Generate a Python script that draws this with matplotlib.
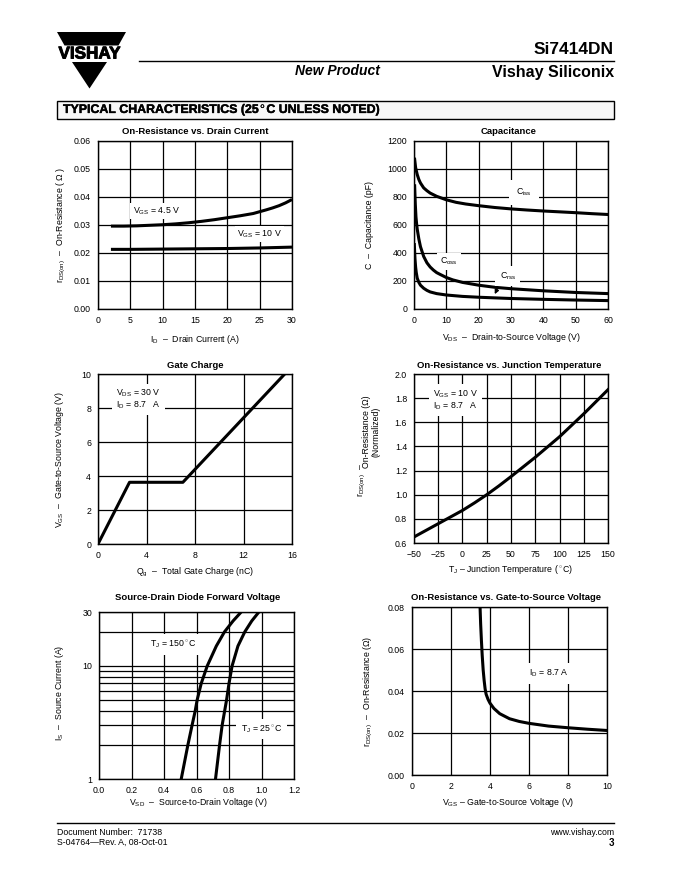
import numpy as np
import matplotlib
matplotlib.use("Agg")
import matplotlib.pyplot as plt
import matplotlib.patheffects as pe
from matplotlib.patches import Polygon, Rectangle
from matplotlib.lines import Line2D
from matplotlib.ticker import FixedLocator, NullFormatter

plt.rcParams['font.family'] = ['Liberation Sans', 'DejaVu Sans']
plt.rcParams['mathtext.fontset'] = 'custom'
plt.rcParams['mathtext.rm'] = 'Liberation Sans'
plt.rcParams['mathtext.it'] = 'Liberation Sans:italic'
plt.rcParams['mathtext.bf'] = 'Liberation Sans:bold'

# ---------------- data ----------------
# On-resistance vs drain current
id_a = [2, 4, 6, 8, 10, 12, 14, 16, 18, 20, 22, 24, 26, 27, 28, 29, 30]
rds_45 = [0.0296, 0.0296, 0.0297, 0.0299, 0.0301, 0.0304, 0.0308, 0.0313, 0.0319, 0.0326,
          0.0333, 0.0341, 0.0354, 0.0361, 0.0369, 0.0379, 0.0391]
id_b = [2, 5, 10, 15, 20, 25, 30]
rds_10 = [0.0213, 0.0213, 0.0214, 0.0215, 0.0216, 0.0218, 0.0221]

# Capacitance
vds_ciss = [0.2, 0.5, 1, 1.5, 2, 3, 4, 5, 7, 10, 13, 16, 20, 25, 30, 35, 40, 45, 50, 55, 60]
ciss = [1070, 1010, 960, 925, 900, 865, 845, 828, 805, 780, 762, 750, 738, 725, 715, 707, 700, 694, 688, 681, 675]
vds_coss = [0.2, 0.4, 0.6, 0.8, 1, 1.5, 2, 3, 4, 5, 6, 7, 8, 10, 12, 15, 20, 25, 30, 40, 50, 60]
coss = [880, 750, 660, 610, 570, 500, 445, 375, 330, 300, 278, 260, 248, 225, 208, 190, 170, 155, 145, 130, 118, 110]
vds_crss = [0.1, 0.3, 0.5, 0.7, 1, 1.5, 2, 3, 4, 5, 7, 10, 15, 20, 30, 40, 50, 60]
crss = [460, 360, 300, 260, 220, 190, 170, 148, 133, 122, 110, 100, 90, 84, 75, 69, 64, 60]

# Gate charge
qg = [0, 2.6, 7.0, 15.4]
vgs_qg = [0, 3.63, 3.63, 10]

# On-resistance vs junction temperature
tj = [-50, -37.5, -25, -12.5, 0, 12.5, 25, 37.5, 50, 62.5, 75, 87.5, 100, 112.5, 125, 137.5, 150]
rds_norm = [0.65, 0.705, 0.76, 0.815, 0.87, 0.933, 1.00, 1.073, 1.15, 1.23, 1.31, 1.395, 1.48,
            1.575, 1.67, 1.77, 1.87]

# Source-drain diode
is_150 = [1, 2, 3, 4, 5, 7, 10, 15, 20, 25, 30]
vsd_150 = [0.506, 0.547, 0.573, 0.592, 0.604, 0.629, 0.666, 0.722, 0.772, 0.825, 0.875]
is_25 = [1, 2, 3, 5, 7, 10, 15, 20, 25, 30]
vsd_25 = [0.717, 0.742, 0.758, 0.785, 0.800, 0.819, 0.855, 0.897, 0.940, 0.984]

# On-resistance vs gate-to-source voltage
vgs_r = [3.49, 3.52, 3.56, 3.60, 3.65, 3.70, 3.75, 3.80, 3.90, 4.0, 4.2, 4.5, 5.0, 5.5, 6, 7, 8, 9, 10]
rds_vgs = [0.080, 0.072, 0.064, 0.057, 0.050, 0.045, 0.041, 0.0385, 0.036, 0.0342, 0.0317, 0.0292,
           0.0268, 0.0255, 0.0246, 0.0233, 0.0225, 0.0218, 0.0212]

W, H = 680, 880
fig = plt.figure(figsize=(6.8, 8.8), dpi=100)


def fx(x):
    return x / W


def fy(y):
    return 1 - y / H


def add_ax(l, t, r, b):
    ax = fig.add_axes([fx(l), fy(b), (r - l) / W, (b - t) / H])
    for s in ax.spines.values():
        s.set_linewidth(1.0)
        s.set_color('black')
    ax.tick_params(length=0, pad=5, labelsize=6.3)
    ax.grid(True, color='black', linewidth=0.9)
    ax.set_axisbelow(True)
    return ax


def ftext(x, y, s, **kw):
    fig.text(fx(x), fy(y), s, **kw)


LW = 2.2
box = dict(facecolor='white', edgecolor='none', pad=1.5)

# ---------------- header ----------------
fig.patches.append(Polygon([[fx(57), fy(32)], [fx(126), fy(32)], [fx(118.5), fy(45.5)], [fx(64.5), fy(45.5)]],
                           closed=True, transform=fig.transFigure, facecolor='black', edgecolor='none'))
fig.patches.append(Polygon([[fx(72), fy(62)], [fx(107), fy(62)], [fx(89.5), fy(88.5)]],
                           closed=True, transform=fig.transFigure, facecolor='black', edgecolor='none'))
ftext(89.5, 54, 'VISHAY', ha='center', va='center', fontsize=12.3, fontweight='bold', color='black',
      path_effects=[pe.withStroke(linewidth=0.7, foreground='black')])

fig.add_artist(Line2D([fx(139), fx(614)], [fy(61), fy(61)], color='black', lw=1.0))
ftext(614, 50, 'Si7414DN', ha='right', va='center', fontsize=12.5, fontweight='bold')
ftext(614, 72, 'Vishay Siliconix', ha='right', va='center', fontsize=11.5, fontweight='bold')
ftext(337, 71, 'New Product', ha='center', va='center', fontsize=10, fontweight='bold', style='italic')

fig.patches.append(Rectangle((fx(57), fy(119)), (614 - 57) / W, 18 / H, transform=fig.transFigure,
                             facecolor='#f7f7f7', edgecolor='black', lw=1.0))
ftext(63, 110, 'TYPICAL CHARACTERISTICS (25$^\\circ$C UNLESS NOTED)', ha='left', va='center',
      fontsize=8.9, fontweight='heavy', path_effects=[pe.withStroke(linewidth=0.3, foreground='black')])

# footer
fig.add_artist(Line2D([fx(57), fx(614)], [fy(823), fy(823)], color='black', lw=1.0))
ftext(57, 832, 'Document Number:  71738', ha='left', va='center', fontsize=6.3)
ftext(57, 842, 'S-04764\u2014Rev. A, 08-Oct-01', ha='left', va='center', fontsize=6.3)
ftext(614, 832, 'www.vishay.com', ha='right', va='center', fontsize=6.3)
ftext(614, 843, '3', ha='right', va='center', fontsize=7, fontweight='bold')

TS = 6.8   # title size
LS = 6.3   # label size

# ---------------- panel 1 ----------------
ax1 = add_ax(98, 141, 292, 309)
ax1.plot(id_a, rds_45, color='black', lw=LW, solid_capstyle='butt')
ax1.plot(id_b, rds_10, color='black', lw=LW, solid_capstyle='butt')
ax1.set_xlim(0, 30)
ax1.set_ylim(0, 0.06)
ax1.set_xticks(np.arange(0, 31, 5))
ax1.set_yticks(np.arange(0, 0.061, 0.01))
ax1.set_yticklabels(['0.00', '0.01', '0.02', '0.03', '0.04', '0.05', '0.06'])
ax1.text(9.0, 0.0350, '$\\mathregular{V_{GS}}$ = 4.5 V', ha='center', va='center', fontsize=LS, bbox=box)
ax1.text(25.0, 0.0267, '$\\mathregular{V_{GS}}$ = 10 V', ha='center', va='center', fontsize=LS, bbox=box)
ftext(195, 131, 'On-Resistance vs. Drain Current', ha='center', va='center', fontsize=TS, fontweight='bold')
ftext(195, 339, '$\\mathregular{I_D}$  \u2013  Drain Current (A)', ha='center', va='center', fontsize=LS)
ftext(61, 225, '$\\mathregular{r_{DS(on)}}$  \u2013  On-Resistance ( \u03a9 )', ha='center', va='center',
      fontsize=LS, rotation=90)

# ---------------- panel 2 ----------------
ax2 = add_ax(414, 141, 608, 309)
ax2.plot(vds_ciss, ciss, color='black', lw=LW)
ax2.plot(vds_coss, coss, color='black', lw=LW)
ax2.plot(vds_crss, crss, color='black', lw=LW)
ax2.set_xlim(0, 60)
ax2.set_ylim(0, 1200)
ax2.set_xticks(np.arange(0, 61, 10))
ax2.set_yticks(np.arange(0, 1201, 200))
ax2.text(34, 832, '$\\mathregular{C_{iss}}$', ha='center', va='center', fontsize=LS,
         bbox=dict(facecolor='white', edgecolor='none', pad=5))
ax2.text(10.8, 340, '$\\mathregular{C_{oss}}$', ha='center', va='center', fontsize=LS,
         bbox=dict(facecolor='white', edgecolor='none', pad=2))
ax2.text(29, 235, '$\\mathregular{C_{rss}}$', ha='center', va='center', fontsize=LS,
         bbox=dict(facecolor='white', edgecolor='none', pad=3))
ax2.annotate('', xy=(24.6, 88), xytext=(26.3, 170),
             arrowprops=dict(arrowstyle='-|>', color='black', lw=1.0, mutation_scale=6))
ftext(509, 131, 'Capacitance', ha='center', va='center', fontsize=TS, fontweight='bold')
ftext(511, 338, '$\\mathregular{V_{DS}}$  \u2013  Drain-to-Source Voltage (V)', ha='center', va='center', fontsize=LS)
ftext(369, 225, 'C  \u2013  Capacitance (pF)', ha='center', va='center', fontsize=LS, rotation=90)

# ---------------- panel 3 ----------------
ax3 = add_ax(98, 374, 292, 544)
ax3.plot(qg, vgs_qg, color='black', lw=LW)
ax3.set_xlim(0, 16)
ax3.set_ylim(0, 10)
ax3.set_xticks(np.arange(0, 17, 4))
ax3.set_yticks(np.arange(0, 11, 2))
ax3.text(1.5, 8.5, '$\\mathregular{V_{DS}}$ = 30 V\n$\\mathregular{I_D}$ = 8.7   A', ha='left', va='center',
         fontsize=LS, linespacing=0.95, bbox=dict(facecolor='white', edgecolor='none', pad=3))
ftext(195, 366, 'Gate Charge', ha='center', va='center', fontsize=TS, fontweight='bold')
ftext(195, 572, '$\\mathregular{Q_g}$  \u2013  Total Gate Charge (nC)', ha='center', va='center', fontsize=LS)
ftext(60, 459, '$\\mathregular{V_{GS}}$  \u2013  Gate-to-Source Voltage (V)', ha='center', va='center',
      fontsize=LS, rotation=90)

# ---------------- panel 4 ----------------
ax4 = add_ax(414, 374, 608, 543)
ax4.plot(tj, rds_norm, color='black', lw=LW)
ax4.set_xlim(-50, 150)
ax4.set_ylim(0.6, 2.0)
ax4.set_xticks(np.arange(-50, 151, 25))
ax4.set_xticklabels(['\u221250', '\u221225', '0', '25', '50', '75', '100', '125', '150'])
ax4.set_yticks(np.arange(0.6, 2.01, 0.2))
ax4.set_yticklabels(['0.6', '0.8', '1.0', '1.2', '1.4', '1.6', '1.8', '2.0'])
ax4.text(-30.5, 1.785, '$\\mathregular{V_{GS}}$ = 10 V\n$\\mathregular{I_D}$ = 8.7   A', ha='left', va='center',
         fontsize=LS, linespacing=0.95, bbox=dict(facecolor='white', edgecolor='none', pad=3))
ftext(509, 366, 'On-Resistance vs. Junction Temperature', ha='center', va='center', fontsize=TS, fontweight='bold')
ftext(511, 569, '$\\mathregular{T_J}$ \u2013 Junction Temperature ($^\\circ$C)', ha='center', va='center', fontsize=LS)
ftext(362, 480, '$\\mathregular{r_{DS(on)}}$  \u2013', ha='center', va='center', fontsize=LS, rotation=90)
ftext(371, 432, 'On-Resistance (\u03a9)\n(Normalized)', ha='center', va='center', fontsize=LS,
      rotation=90, linespacing=1.1)

# ---------------- panel 5 ----------------
ax5 = add_ax(99, 612, 294, 779)
ax5.set_yscale('log')
ax5.plot(vsd_150, is_150, color='black', lw=LW)
ax5.plot(vsd_25, is_25, color='black', lw=LW)
ax5.set_xlim(0, 1.2)
ax5.set_ylim(1, 30)
ax5.set_xticks(np.arange(0, 1.21, 0.2))
ax5.set_xticklabels(['0.0', '0.2', '0.4', '0.6', '0.8', '1.0', '1.2'])
ax5.yaxis.set_major_locator(FixedLocator([1, 10, 30]))
ax5.set_yticklabels(['1', '10', '30'])
ax5.yaxis.set_minor_locator(FixedLocator([2, 3, 4, 5, 6, 7, 8, 9, 20]))
ax5.yaxis.set_minor_formatter(NullFormatter())
ax5.tick_params(which='minor', length=0)
ax5.grid(True, which='minor', axis='y', color='black', linewidth=0.9)
ax5.grid(True, which='major', color='black', linewidth=0.9)
ax5.text(0.46, 15.5, '$\\mathregular{T_J}$ = 150$^\\circ$C', ha='center', va='center', fontsize=LS,
         bbox=dict(facecolor='white', edgecolor='none', pad=3))
ax5.text(1.0, 2.75, '$\\mathregular{T_J}$ = 25$^\\circ$C', ha='center', va='center', fontsize=LS,
         bbox=dict(facecolor='white', edgecolor='none', pad=3))
ftext(198, 597, 'Source-Drain Diode Forward Voltage', ha='center', va='center', fontsize=TS, fontweight='bold')
ftext(198, 802, '$\\mathregular{V_{SD}}$  \u2013  Source-to-Drain Voltage (V)', ha='center', va='center', fontsize=LS)
ftext(60, 693, '$\\mathregular{I_S}$  \u2013  Source Current (A)', ha='center', va='center', fontsize=LS, rotation=90)

# ---------------- panel 6 ----------------
ax6 = add_ax(412, 607, 607, 775)
ax6.plot(vgs_r, rds_vgs, color='black', lw=LW)
ax6.set_xlim(0, 10)
ax6.set_ylim(0, 0.08)
ax6.set_xticks(np.arange(0, 11, 2))
ax6.set_yticks(np.arange(0, 0.081, 0.02))
ax6.set_yticklabels(['0.00', '0.02', '0.04', '0.06', '0.08'])
ax6.text(7.0, 0.0485, '$\\mathregular{I_D}$ = 8.7 A', ha='center', va='center', fontsize=LS,
         bbox=dict(facecolor='white', edgecolor='none', pad=3))
ftext(506, 597, 'On-Resistance vs. Gate-to-Source Voltage', ha='center', va='center', fontsize=TS, fontweight='bold')
ftext(508, 802, '$\\mathregular{V_{GS}}$ \u2013 Gate-to-Source Voltage (V)', ha='center', va='center', fontsize=LS)
ftext(368, 691, '$\\mathregular{r_{DS(on)}}$  \u2013  On-Resistance (\u03a9)', ha='center', va='center',
      fontsize=LS, rotation=90)

fig.savefig('out.png', dpi=100, facecolor='white')
